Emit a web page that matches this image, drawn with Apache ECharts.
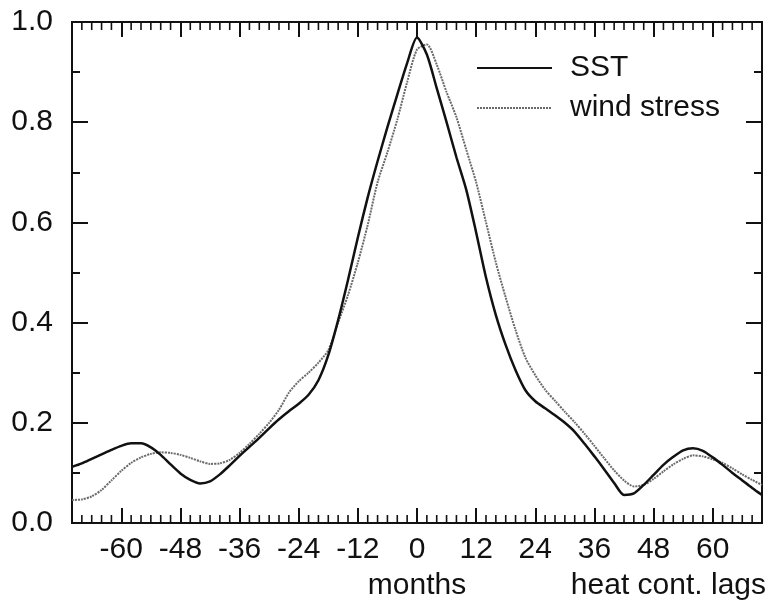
<!DOCTYPE html>
<html><head><meta charset="utf-8">
<script src="https://cdn.jsdelivr.net/npm/echarts@6/dist/echarts.min.js"></script>
<style>html,body{margin:0;padding:0;background:#fff}#c{width:768px;height:606px}</style>
</head><body><div id="c"></div>
<script>
const lags = [-70,-68,-66,-64,-62,-60,-58,-56,-54,-52,-50,-48,-46,-44,-42,-40,-38,-36,-34,-32,-30,-28,-26,-24,-22,-20,-18,-16,-14,-12,-10,-8,-6,-4,-2,0,2,4,6,8,10,12,14,16,18,20,22,24,26,28,30,32,34,36,38,40,42,44,46,48,50,52,54,56,58,60,62,64,66,68,70];
const sst = [0.112,0.119,0.128,0.137,0.146,0.154,0.159,0.159,0.151,0.136,0.117,0.099,0.086,0.079,0.083,0.097,0.115,0.134,0.152,0.170,0.189,0.207,0.223,0.238,0.256,0.285,0.335,0.405,0.485,0.570,0.650,0.722,0.790,0.855,0.918,0.969,0.935,0.868,0.800,0.730,0.665,0.580,0.490,0.415,0.355,0.305,0.265,0.243,0.229,0.215,0.200,0.182,0.158,0.133,0.107,0.080,0.056,0.059,0.076,0.096,0.116,0.132,0.145,0.149,0.144,0.131,0.116,0.100,0.085,0.070,0.056];
const windStress = [0.046,0.047,0.053,0.066,0.085,0.104,0.120,0.131,0.138,0.141,0.140,0.136,0.130,0.123,0.118,0.119,0.126,0.140,0.158,0.178,0.200,0.226,0.260,0.283,0.300,0.320,0.345,0.400,0.455,0.520,0.595,0.680,0.740,0.805,0.880,0.945,0.955,0.915,0.860,0.810,0.745,0.680,0.600,0.520,0.450,0.385,0.330,0.295,0.266,0.244,0.222,0.201,0.178,0.154,0.129,0.105,0.085,0.073,0.076,0.088,0.103,0.117,0.128,0.135,0.133,0.127,0.120,0.109,0.097,0.086,0.076];
const xMajorTicks = [-60,-48,-36,-24,-12,0,12,24,36,48,60];
const xMinorTicks = [-68,-66,-64,-62,-58,-56,-54,-52,-50,-46,-44,-42,-40,-38,-34,-32,-30,-28,-26,-22,-20,-18,-16,-14,-10,-8,-6,-4,-2,2,4,6,8,10,14,16,18,20,22,26,28,30,32,34,38,40,42,44,46,50,52,54,56,58,62,64,66,68];
const yMajorTicks = [0,0.2,0.4,0.6,0.8,1.0];
const yMinorTicks = [0.1,0.3,0.5,0.7,0.9];
const seriesNames = ['SST','wind stress'];
const xAxisTitle = 'months';
const xAxisNote = 'heat cont. lags';

const FONT = '"Liberation Sans", Arial, Helvetica, sans-serif';
const X_MIN = -70, X_MAX = 70, Y_MIN = 0, Y_MAX = 1;
const LINE = { color: '#111', width: 2 };

function xAx(pos, withLabels) {
  return {
    type: 'value', position: pos, min: X_MIN, max: X_MAX,
    axisLine: { show: true, onZero: false, lineStyle: LINE },
    axisTick: { show: true, inside: true, length: 15, customValues: xMajorTicks, lineStyle: { color: '#111', width: 2 } },
    axisLabel: withLabels
      ? { show: true, customValues: xMajorTicks, margin: 12, fontSize: 30, color: '#111', fontFamily: FONT }
      : { show: false },
    splitLine: { show: false }
  };
}
function yAx(pos, ticks, len, withLabels) {
  return {
    type: 'value', position: pos, min: Y_MIN, max: Y_MAX,
    axisLine: { show: true, onZero: false, lineStyle: LINE },
    axisTick: { show: true, inside: true, length: len, customValues: ticks, lineStyle: { color: '#111', width: 2 } },
    axisLabel: withLabels
      ? { show: true, customValues: yMajorTicks, margin: 19, fontSize: 30, color: '#111', fontFamily: FONT,
          formatter: v => Number(v).toFixed(1) }
      : { show: false },
    splitLine: { show: false }
  };
}

const chart = echarts.init(document.getElementById('c'), null, { renderer: 'canvas' });
chart.setOption({
  animation: false,
  backgroundColor: '#fff',
  grid: { left: 72, right: 6, top: 22, bottom: 83, containLabel: false },
  xAxis: [xAx('bottom', true), xAx('top', false)],
  yAxis: [
    yAx('left', yMajorTicks, 16, true),
    yAx('right', yMajorTicks, 16, false),
    yAx('left', yMinorTicks, 8, false),
    yAx('right', yMinorTicks, 8, false)
  ],
  legend: {
    orient: 'vertical', left: 471, top: 48,
    itemWidth: 75, itemHeight: 14, itemGap: 10,
    itemStyle: { opacity: 0 },
    data: seriesNames,
    textStyle: { fontSize: 30, color: '#111', fontFamily: FONT, lineHeight: 30, padding: [0, 0, 0, 13] }
  },
  graphic: [
    { type: 'text', x: 417, y: 586, style: { text: xAxisTitle, font: '30px ' + FONT, fill: '#111', textAlign: 'center', textVerticalAlign: 'middle' } },
    { type: 'text', x: 766, y: 586, style: { text: xAxisNote, font: '30px ' + FONT, fill: '#111', textAlign: 'right', textVerticalAlign: 'middle' } }
  ],
  series: [
    { name: seriesNames[0], type: 'line', xAxisIndex: 0, yAxisIndex: 0, symbol: 'none', smooth: 0.25,
      data: lags.map((x, i) => [x, sst[i]]),
      lineStyle: { color: '#111', width: 2.5 }, itemStyle: { color: '#111' }, z: 3 },
    { name: seriesNames[1], type: 'line', xAxisIndex: 0, yAxisIndex: 0, symbol: 'none', smooth: 0.25,
      data: lags.map((x, i) => [x, windStress[i]]),
      lineStyle: { color: '#6a6a6a', width: 2, type: [2, 1] }, itemStyle: { color: '#6a6a6a' }, z: 2 },
    { name: 'minorTicks', type: 'custom', xAxisIndex: 0, yAxisIndex: 0, silent: true, clip: false, z: 4,
      data: xMinorTicks.map(v => [v, Y_MIN]),
      encode: { x: 0, y: 1 },
      renderItem: (params, api) => {
        const v = api.value(0);
        const b = api.coord([v, Y_MIN]);
        const t = api.coord([v, Y_MAX]);
        const st = { stroke: '#111', lineWidth: 1.6 };
        return { type: 'group', children: [
          { type: 'line', shape: { x1: b[0], y1: b[1], x2: b[0], y2: b[1] - 8 }, style: st },
          { type: 'line', shape: { x1: t[0], y1: t[1], x2: t[0], y2: t[1] + 8 }, style: st }
        ] };
      } }
  ]
});
</script>
</body></html>
